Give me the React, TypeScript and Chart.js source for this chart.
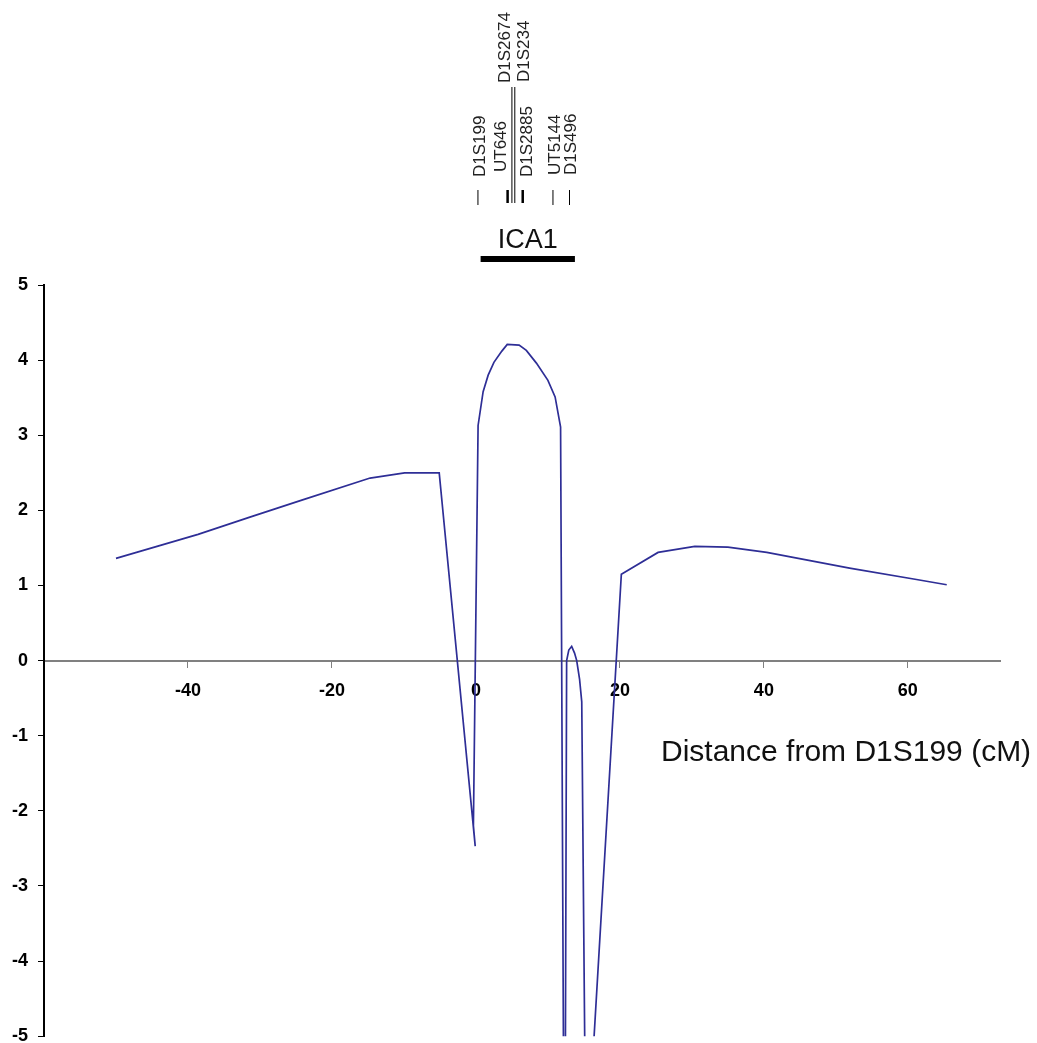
import React, { useEffect, useRef } from "react";
import { Chart, registerables } from "chart.js";

Chart.register(...registerables);

// ---- Data ----
const distanceCM = [
  -50, -38.6, -31.4, -24.4, -14.7, -9.9, -5.1, -0.1, -0.35, 0.3, 1.0, 1.7, 2.5, 3.6, 4.35, 6.0, 7.0, 8.4, 10.0,
  11.0, 11.76, 12.2, 12.4, 12.6, 12.9, 13.3, 13.7, 14.0, 14.4, 14.7, 15.2, 15.8, 20.2, 25.3, 30.4, 35.0, 40.4,
  51.9, 61.2, 65.4,
];
const lodScore = [
  1.36, 1.68, 1.91, 2.13, 2.43, 2.5, 2.5, -2.47, -2.2, 3.13, 3.58, 3.8, 3.97, 4.12, 4.21, 4.2, 4.13, 3.96, 3.73,
  3.51, 3.11, -6, -6, 0.0, 0.14, 0.19, 0.1, 0.0, -0.25, -0.55, -6, -6, 1.15, 1.44, 1.52, 1.51, 1.44, 1.23, 1.08,
  1.01,
];

const yTicks = [-5, -4, -3, -2, -1, 0, 1, 2, 3, 4, 5];
const xTickValues = [-60, -40, -20, 0, 20, 40, 60];
const xTickLabels = ["", "-40", "-20", "0", "20", "40", "60"];

const markerNames = ["D1S199", "UT646", "D1S2674", "D1S234", "D1S2885", "UT5144", "D1S496"];
const markerCM = [0.28, 4.4, 5.0, 5.4, 6.5, 10.7, 13.0];
const geneName = "ICA1";
const geneStartCM = 0.65;
const geneEndCM = 13.75;
const axisTitle = "Distance from D1S199 (cM)";

// ---- Layout for the marker annotations (pixels) ----
const labelOffsetPx = [2, -6, -7, 10, 5, 2, 2];
const labelBottomPx = [177, 172, 83, 82, 177, 175, 175];
const lineTopPx = [190, 190, 87, 87, 190, 190, 190];
const lineBottomPx = [205, 203, 203, 203, 203, 205, 205];
const lineWidthPx = [1, 2.5, 1, 1, 2.5, 1, 1];

const FONT = "'Liberation Sans', Arial, sans-serif";

const annotationPlugin = {
  id: "annotations",
  afterDraw(chart: any) {
    const ctx = chart.ctx;
    const xs = chart.scales.x;
    ctx.save();
    markerNames.forEach((name, i) => {
      const px = xs.getPixelForValue(markerCM[i]);
      ctx.strokeStyle = "#000";
      ctx.lineWidth = lineWidthPx[i];
      ctx.beginPath();
      ctx.moveTo(px, lineTopPx[i]);
      ctx.lineTo(px, lineBottomPx[i]);
      ctx.stroke();

      ctx.save();
      ctx.translate(px + labelOffsetPx[i], labelBottomPx[i]);
      ctx.rotate(-Math.PI / 2);
      ctx.fillStyle = "#222";
      ctx.font = `17px ${FONT}`;
      ctx.textAlign = "left";
      ctx.textBaseline = "middle";
      ctx.fillText(name, 0, 0);
      ctx.restore();
    });
    const g0 = xs.getPixelForValue(geneStartCM);
    const g1 = xs.getPixelForValue(geneEndCM);
    ctx.fillStyle = "#000";
    ctx.fillRect(g0, 256, g1 - g0, 6);
    ctx.font = `27px ${FONT}`;
    ctx.textAlign = "center";
    ctx.textBaseline = "alphabetic";
    ctx.fillStyle = "#111";
    ctx.fillText(geneName, (g0 + g1) / 2, 248);
    ctx.font = `30px ${FONT}`;
    ctx.textAlign = "left";
    ctx.fillText(axisTitle, 661, 761);
    ctx.restore();
  },
};

export default function App() {
  const ref = useRef<HTMLCanvasElement>(null);

  useEffect(() => {
    if (!ref.current) return;
    const points = distanceCM.map((x, i) => ({ x, y: lodScore[i] }));
    const chart = new Chart(ref.current, {
      type: "line",
      data: {
        datasets: [
          {
            data: points,
            borderColor: "#2E2E96",
            borderWidth: 1.7,
            pointRadius: 0,
            tension: 0,
            fill: false,
          },
        ],
      },
      options: {
        responsive: false,
        animation: false,
        devicePixelRatio: 1,
        layout: { padding: { top: 285, right: 37, bottom: 8, left: 0 } },
        plugins: { legend: { display: false }, tooltip: { enabled: false } },
        scales: {
          x: {
            type: "linear",
            min: -60,
            max: 72.8,
            position: { y: 0 } as any,
            afterFit: (s: any) => {
              s.height = 0;
            },
            afterBuildTicks: (s: any) => {
              s.ticks = xTickValues.map((v) => ({ value: v }));
            },
            ticks: {
              callback: (v: any) => {
                const i = xTickValues.indexOf(Number(v));
                return i >= 0 ? xTickLabels[i] : "";
              },
              font: { family: FONT, size: 18, weight: "bold" },
              color: "#000",
              padding: 14,
              maxRotation: 0,
              autoSkip: false,
            },
            grid: { drawOnChartArea: false, drawTicks: true, tickLength: 6, color: "#808080" },
            border: { color: "#808080", width: 2 },
          },
          y: {
            type: "linear",
            min: -5,
            max: 5,
            position: "left",
            afterFit: (s: any) => {
              s.width = 44;
            },
            afterBuildTicks: (s: any) => {
              s.ticks = yTicks.map((v) => ({ value: v }));
            },
            ticks: {
              font: { family: FONT, size: 18, weight: "bold" },
              color: "#000",
              padding: 10,
            },
            grid: { drawOnChartArea: false, drawTicks: true, tickLength: 6, color: "#000" },
            border: { color: "#000", width: 2 },
          },
        },
      },
      plugins: [annotationPlugin],
    });
    return () => chart.destroy();
  }, []);

  return (
    <div
      style={{ position: "fixed", left: 0, top: 0, width: 1037, height: 1043, overflow: "hidden", background: "#fff" }}
    >
      <canvas ref={ref} width={1037} height={1057} />
    </div>
  );
}
